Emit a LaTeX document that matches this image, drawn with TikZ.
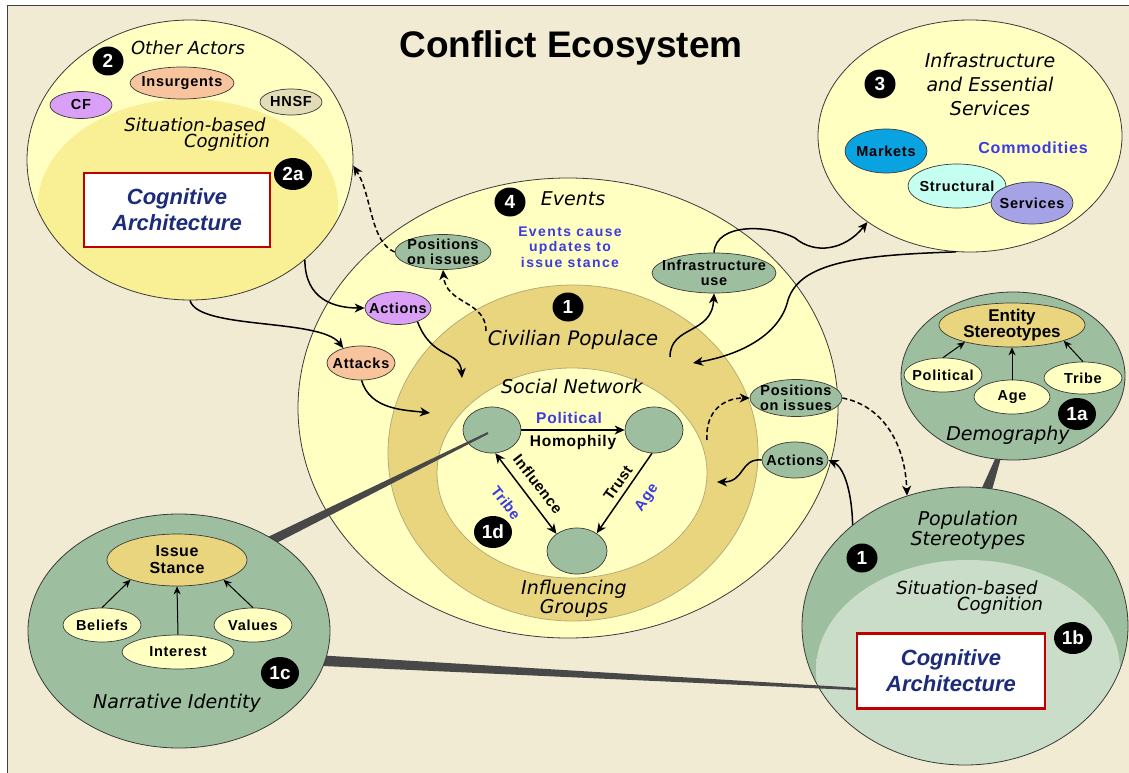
\documentclass[tikz,border=0pt]{standalone}
\usepackage{fontspec}
\setmainfont{Liberation Sans}
\newfontfamily\dv{DejaVu Sans}
\usetikzlibrary{shapes.geometric,arrows.meta,calc}
\definecolor{bgc}{HTML}{F1EBD3}
\definecolor{lyel}{HTML}{FFFFC2}
\definecolor{yel2}{HTML}{F9EF94}
\definecolor{gold}{HTML}{E8D57E}
\definecolor{goldedge}{HTML}{B9AB78}
\definecolor{grn}{HTML}{9DBF9F}
\definecolor{lgrn}{HTML}{CADDC8}
\definecolor{purp}{HTML}{DA9FF6}
\definecolor{orng}{HTML}{F8C49D}
\definecolor{tanc}{HTML}{E3DCB8}
\definecolor{mkt}{HTML}{0AA3E2}
\definecolor{strc}{HTML}{C4FFF2}
\definecolor{serv}{HTML}{A5A3E6}
\definecolor{bluet}{HTML}{3B3BE0}
\definecolor{navy}{HTML}{1C2C78}
\definecolor{redb}{HTML}{C00000}
\definecolor{wedgec}{HTML}{484848}
\definecolor{edgec}{HTML}{3A3A3A}
\pgfdeclareradialshading{softy}{\pgfpoint{0bp}{0bp}}{color(0bp)=(yel2); color(34bp)=(yel2); color(50bp)=(lyel)}
\pgfdeclareradialshading{softg}{\pgfpoint{0bp}{0bp}}{color(0bp)=(lgrn); color(38bp)=(lgrn); color(50bp)=(grn)}
\begin{document}
\begin{tikzpicture}[x=1pt,y=-1pt,
  >={Stealth[length=10pt,width=9pt,inset=3pt]},
  lab/.style={font=\fontsize{14.5}{15}\selectfont\bfseries\addfontfeature{LetterSpace=5}, align=center, inner sep=0pt},
  rlab/.style={font=\fontsize{15}{15}\selectfont\bfseries\addfontfeature{LetterSpace=3}, align=center, inner sep=0pt},
  itl/.style={font=\dv\itshape\fontsize{19}{23}\selectfont, align=center, inner sep=0pt},
  el/.style={ellipse, draw=edgec, line width=0.7pt, inner sep=0pt},
  big/.style={ellipse, draw=edgec, line width=0.8pt, inner sep=0pt},
  badge/.style={ellipse, fill=black, text=white, inner sep=0pt, minimum width=31pt, minimum height=29pt, font=\fontsize{19}{19}\selectfont\bfseries},
  wbadge/.style={badge, minimum width=38pt, minimum height=32pt},
  arr/.style={->, line width=1.5pt},
  darr/.style={->, line width=1.5pt, dash pattern=on 5pt off 3pt},
  arrb/.style={<->, line width=1.5pt},
  thinarr/.style={-{Stealth[length=8pt,width=7pt,inset=2.5pt]}, line width=1pt},
  cog/.style={draw=redb, line width=2.6pt, fill=white, minimum width=186pt, minimum height=74pt, inner sep=0pt, align=center, text=navy, font=\fontsize{22}{26}\selectfont\bfseries\itshape},
  wedge/.style={fill=wedgec}
]
\useasboundingbox (0,0) rectangle (1129,773);
\fill[white] (0,0) rectangle (1129,773);
\fill[bgc] (7,5) rectangle (1129,773);
\draw[line width=1.2pt, black!75] (7.5,773) -- (7.5,5.5) -- (1129,5.5);

% title
\node[font=\fontsize{37}{40}\selectfont\bfseries] (title) at (571,48) {Conflict Ecosystem};

% ---------- Other actors ----------
\fill[lyel] (190,160) ellipse [x radius=163, y radius=140];
\begin{scope}
\clip (190,160) ellipse [x radius=163, y radius=140];
\shade[shading=softy] (188,205) ellipse [x radius=150, y radius=106];
\end{scope}
\node[big, minimum width=326pt, minimum height=280pt] (oa) at (190,160) {};
\node[itl, font=\dv\itshape\fontsize{18}{20}\selectfont] (oat) at (188,48) {Other Actors};
\node[badge] (b2) at (108,61) {2};
\node[el, fill=orng, minimum width=104pt, minimum height=32pt, label={[lab]center:Insurgents}] (ins) at (182,83) {};
\node[el, fill=purp, minimum width=62pt, minimum height=27pt, label={[lab]center:CF}] (cf) at (81,105) {};
\node[el, fill=tanc, minimum width=62pt, minimum height=26pt, label={[lab]center:HNSF}] (hnsf) at (291,102) {};
\node[itl, font=\dv\itshape\fontsize{18}{20}\selectfont] (sb1) at (195,125) {Situation-based};
\node[itl, font=\dv\itshape\fontsize{18}{20}\selectfont] (cg1) at (227,143) {Cognition};
\node[wbadge] (b2a) at (293,174) {2a};
\node[cog] (ca1) at (177,210) {Cognitive\\Architecture};

% ---------- Infrastructure ----------
\node[big, fill=lyel, minimum width=304pt, minimum height=232pt] (inf) at (970,136) {};
\node[badge] (b3) at (880,84) {3};
\node[itl, font=\dv\itshape\fontsize{19}{24}\selectfont] (inft) at (990,84) {Infrastructure\\and Essential\\Services};
\node[el, fill=mkt, minimum width=82pt, minimum height=44pt, label={[lab]center:Markets}] (mkt) at (886,151) {};
\node[lab, text=bluet, font=\fontsize{16}{16}\selectfont\bfseries\addfontfeature{LetterSpace=5}] (com) at (1033,148) {Commodities};
\node[el, fill=strc, minimum width=98pt, minimum height=44pt, label={[lab]center:Structural}] (str) at (957,186) {};
\node[el, fill=serv, minimum width=82pt, minimum height=42pt, label={[lab]center:Services}] (srv) at (1032,203) {};

% ---------- demography wedge (behind) ----------
\coordinate (w3a) at (1003,445);
\coordinate (w3b) at (983,500);
\fill[wedge] ($(w3a)!1.5pt!90:(w3b)$) -- ($(w3b)!6pt!-90:(w3a)$) -- ($(w3b)!6pt!90:(w3a)$) -- ($(w3a)!1.5pt!-90:(w3b)$) -- cycle;

% ---------- Events ----------
\node[big, fill=lyel, minimum width=540pt, minimum height=460pt] (ev) at (568,408) {};
\node[ellipse, draw=goldedge, line width=0.8pt, fill=gold, minimum width=370pt, minimum height=336pt, inner sep=0pt] (cp) at (573,453) {};
\node[ellipse, draw=goldedge, line width=0.8pt, fill=lyel, minimum width=270pt, minimum height=210pt, inner sep=0pt] (sn) at (572,473) {};
\node[badge] (b4) at (510,202) {4};
\node[itl] (evt) at (573,199) {Events};
\node[lab, text=bluet, font=\fontsize{14}{15.5}\selectfont\bfseries\addfontfeature{LetterSpace=10}] (evc) at (570,247) {Events cause\\updates to\\issue stance};
\node[el, fill=grn, minimum width=96pt, minimum height=35pt, label={[lab]center:Positions\\on issues}] (posT) at (443,252) {};
\node[el, fill=purp, minimum width=66pt, minimum height=33pt, label={[lab]center:Actions}] (actL) at (398,308) {};
\node[el, fill=orng, minimum width=68pt, minimum height=34pt, label={[lab]center:Attacks}] (att) at (361,363) {};
\node[badge] (b1) at (568,307) {1};
\node[itl, font=\dv\itshape\fontsize{20}{22}\selectfont] (civ) at (573,340) {Civilian Populace};
\node[el, fill=grn, minimum width=124pt, minimum height=40pt, label={[lab]center:Infrastructure\\use}] (iuse) at (714,273) {};
\node[itl] (snt) at (572,386) {Social Network};
\node[el, fill=grn, minimum width=58pt, minimum height=46pt] (na) at (492,430) {};
\node[el, fill=grn, minimum width=58pt, minimum height=46pt] (nb) at (654,430) {};
\node[el, fill=grn, minimum width=60pt, minimum height=46pt] (nc) at (577,551) {};
\node[lab, text=bluet, font=\fontsize{15.5}{16}\selectfont\bfseries\addfontfeature{LetterSpace=5}] (pol) at (569,418) {Political};
\node[lab, font=\fontsize{15.5}{16}\selectfont\bfseries\addfontfeature{LetterSpace=5}] (hom) at (573,442) {Homophily};
\node[rlab, rotate=-52] (infl) at (538,484) {Influence};
\node[rlab, text=bluet, rotate=-52] (trb) at (506,503) {Tribe};
\node[rlab, rotate=55] (trs) at (618,483) {Trust};
\node[rlab, text=bluet, rotate=55] (age) at (647,498) {Age};
\node[wbadge] (b1d) at (493,532) {1d};
\node[itl, font=\dv\itshape\fontsize{19}{18}\selectfont] (ig) at (574,599) {Influencing\\Groups};
\node[el, fill=grn, minimum width=92pt, minimum height=37pt, label={[lab]center:Positions\\on issues}] (posR) at (796,398) {};
\node[el, fill=grn, minimum width=66pt, minimum height=36pt, label={[lab]center:Actions}] (actR) at (795,460) {};

\draw[arr] (na.east) -- (nb.west);
\draw[arr] (nb.-95) -- (nc.42);
\draw[arrb] (na.-82) -- (nc.140);

% ---------- Demography ----------
\node[big, fill=grn, minimum width=224pt, minimum height=168pt] (dem) at (1013,376) {};
\node[el, fill=gold, minimum width=146pt, minimum height=44pt, label={[lab, font=\fontsize{17}{15}\selectfont\bfseries]center:Entity\\Stereotypes}] (ent) at (1012,325) {};
\node[el, fill=lyel, minimum width=78pt, minimum height=34pt, label={[lab]center:Political}] (dpol) at (943,375) {};
\node[el, fill=lyel, minimum width=76pt, minimum height=34pt, label={[lab]center:Age}] (dage) at (1012,397) {};
\node[el, fill=lyel, minimum width=78pt, minimum height=32pt, label={[lab]center:Tribe}] (dtri) at (1083,378) {};
\node[wbadge] (b1a) at (1077,414) {1a};
\node[itl] (demt) at (1008,435) {Demography};
\draw[thinarr] (dpol.north) -- (ent.-160);
\draw[thinarr] (dage.north) -- (ent.south);
\draw[thinarr] (dtri.north) -- (ent.-17);

% ---------- Population stereotypes ----------
\fill[grn] (965,626) ellipse [x radius=163, y radius=139];
\begin{scope}
\clip (965,626) ellipse [x radius=163, y radius=139];
\shade[shading=softg] (968,670) ellipse [x radius=152, y radius=110];
\end{scope}
\node[big, minimum width=326pt, minimum height=278pt] (pop) at (965,626) {};
\node[itl, font=\dv\itshape\fontsize{19}{20}\selectfont] (popt) at (968,530) {Population\\Stereotypes};
\node[badge] (b1p) at (862,558) {1};
\node[itl, font=\dv\itshape\fontsize{18}{20}\selectfont] (sb2) at (967,588) {Situation-based};
\node[itl, font=\dv\itshape\fontsize{18}{20}\selectfont] (cg2) at (1000,606) {Cognition};
\node[wbadge] (b1b) at (1073,638) {1b};

% ---------- wedges from narrative identity ----------
\coordinate (w1a) at (250,551);
\coordinate (w1b) at ($(na.center)+(-4,3)$);
\fill[wedge] ($(w1a)!5pt!90:(w1b)$) -- ($(w1b)!1pt!-90:(w1a)$) -- ($(w1b)!1pt!90:(w1a)$) -- ($(w1a)!5pt!-90:(w1b)$) -- cycle;
\coordinate (w2a) at (290,659);
\coordinate (w2b) at (858,689);
\fill[wedge] ($(w2a)!5.5pt!90:(w2b)$) -- ($(w2b)!1.2pt!-90:(w2a)$) -- ($(w2b)!1.2pt!90:(w2a)$) -- ($(w2a)!5.5pt!-90:(w2b)$) -- cycle;

\node[cog, minimum width=188pt, minimum height=75pt] (ca2) at (951,671) {Cognitive\\Architecture};

% ---------- Narrative identity ----------
\node[big, fill=grn, minimum width=302pt, minimum height=234pt] (nar) at (179,631) {};
\node[el, fill=gold, minimum width=140pt, minimum height=52pt, label={[lab, font=\fontsize{16}{17}\selectfont\bfseries\addfontfeature{LetterSpace=3}]center:Issue\\Stance}] (stc) at (177,560) {};
\node[el, fill=lyel, minimum width=78pt, minimum height=34pt, label={[lab]center:Beliefs}] (bel) at (102,625) {};
\node[el, fill=lyel, minimum width=112pt, minimum height=34pt, label={[lab]center:Interest}] (intr) at (178,652) {};
\node[el, fill=lyel, minimum width=78pt, minimum height=34pt, label={[lab]center:Values}] (val) at (253,625) {};
\node[wbadge] (b1c) at (280,673) {1c};
\node[itl] (nart) at (177,703) {Narrative Identity};
\draw[thinarr] (bel.north) -- (stc.-157);
\draw[thinarr] (intr.north) -- (stc.south);
\draw[thinarr] (val.north) -- (stc.-23);

% ---------- connectors ----------
\coordinate (c2s) at (486,331);
\coordinate (ringA) at (462,378);
\coordinate (ringB) at (430,413);
\coordinate (c7s) at (670,357);
\coordinate (ringC) at (693,363);
\coordinate (c10s) at (707,440);
\coordinate (c12e) at (717,482);

\draw[darr] (posT.west) .. controls (370,242) and (372,195) .. (oa.-2);
\draw[darr] (c2s) .. controls (486,300) and (446,305) .. (posT.south);
\draw[arr] (oa.-41) .. controls (305,300) and (335,308) .. (actL.west);
\draw[arr] (oa.south) .. controls (198,330) and (320,318) .. (att.140);
\draw[arr] (actL.-35) .. controls (432,360) and (460,350) .. (ringA);
\draw[arr] (att.-88) .. controls (370,410) and (405,410) .. (ringB);
\draw[arr] (c7s) .. controls (670,325) and (712,335) .. (iuse.south);
\draw[arr] (iuse.north) .. controls (716,222) and (770,225) .. (795,238) .. controls (815,255) and (845,250) .. (inf.-140);
\draw[arr] (inf.-97) .. controls (860,255) and (800,262) .. (788,300) .. controls (780,335) and (740,355) .. (ringC);
\draw[darr] (c10s) .. controls (705,410) and (725,398) .. (posR.west);
\draw[darr] (posR.east) .. controls (880,405) and (905,440) .. (pop.114);
\draw[arr] (actR.west) .. controls (740,458) and (745,482) .. (c12e);
\draw[arr] (pop.138) .. controls (852,495) and (845,468) .. (actR.east);
\end{tikzpicture}
\end{document}
